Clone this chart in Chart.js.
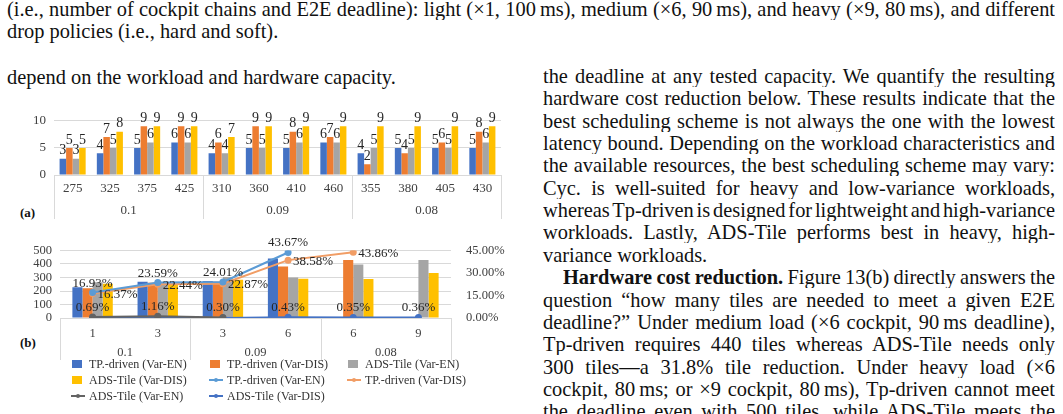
<!DOCTYPE html>
<html>
<head>
<meta charset="utf-8">
<script src="https://cdn.jsdelivr.net/npm/chart.js@4.4.1/dist/chart.umd.min.js"></script>
<style>
  html, body { margin: 0; padding: 0; background: #fff; }
  body {
    width: 1063px; height: 414px; overflow: hidden; position: relative;
    font-family: 'Liberation Serif', 'DejaVu Serif', serif;
    font-size: 20.4px; color: #111;
  }
  .ln { position: absolute; height: 22px; line-height: 22px; white-space: nowrap; }
  .j { text-align: justify; text-align-last: justify; white-space: normal; word-spacing: -3px; overflow: hidden; }
  .tag { position: absolute; font-weight: bold; font-size: 13px; }
  canvas { position: absolute; left: 0; }
  #legendB { position: absolute; left: 71px; top: 357px; display: grid;
    grid-template-columns: 138px 138px 138px; row-gap: 2px;
    font-size: 12px; color: #333; line-height: 14px; }
  #legendB .it { display: flex; align-items: center; white-space: nowrap; }
  #legendB .sw { width: 14px; height: 10px; margin-right: 4px; position: relative; }
</style>
</head>
<body>

<div class="ln j" style="left:7px; top:-2px; width:1048px;">(i.e., number of cockpit chains and E2E deadline): light (×1, 100&#8201;ms), medium (×6, 90&#8201;ms), and heavy (×9, 80&#8201;ms), and different</div>
<div class="ln" style="left:7px; top:20px;">drop policies (i.e., hard and soft).</div>

<div class="ln" style="left:7px; top:66px;">depend on the workload and hardware capacity.</div>

<div id="rightCol"></div>

<span class="tag" style="left:20px; top:205px;">(a)</span>
<span class="tag" style="left:20px; top:335px;">(b)</span>

<canvas id="chartA" width="505" height="116" style="top:105px;"></canvas>
<canvas id="chartB" width="505" height="125" style="top:235px;"></canvas>
<div id="legendB"></div>

<script>
// right column text, one entry per printed line
const rightLines = [
    'the deadline at any tested capacity. We quantify the resulting',
    'hardware cost reduction below. These results indicate that the',
    'best scheduling scheme is not always the one with the lowest',
    'latency bound. Depending on the workload characteristics and',
    'the available resources, the best scheduling scheme may vary:',
    'Cyc. is well-suited for heavy and low-variance workloads,',
    'whereas Tp-driven is designed for lightweight and high-variance',
    'workloads. Lastly, ADS-Tile performs best in heavy, high-',
    'variance workloads.',
    '<b>Hardware cost reduction.</b> Figure 13(b) directly answers the',
    'question “how many tiles are needed to meet a given E2E',
    'deadline?” Under medium load (×6 cockpit, 90&#8201;ms deadline),',
    'Tp-driven requires 440 tiles whereas ADS-Tile needs only',
    '300 tiles—a 31.8% tile reduction. Under heavy load (×6',
    'cockpit, 80&#8201;ms; or ×9 cockpit, 80&#8201;ms), Tp-driven cannot meet',
    'the deadline even with 500 tiles, while ADS-Tile meets the'
];

// (a) capacity vs number of chains meeting the deadline
const capacityA = ['275', '325', '375', '425', '310', '360', '410', '460', '355', '380', '405', '430'];
const deadlinesA = ['0.1', '0.09', '0.08'];
const tpEnA  = [3, 4, 5, 6, 4, 5, 5, 6, 4, 5, 5, 5];
const tpDisA = [5, 7, 9, 9, 6, 9, 8, 7, 2, 4, 6, 8];
const adsEnA = [3, 5, 6, 6, 4, 5, 6, 6, 5, 5, 5, 6];
const adsDisA = [5, 8, 9, 9, 7, 9, 9, 9, 9, 9, 9, 9];

// (b) tiles needed (bars) and reduction % (lines)
const chainsB = ['1', '3', '3', '6', '6', '9'];
const deadlinesB = ['0.1', '0.09', '0.08'];
const tpEnTiles  = [228, 268, 275, 440, null, null];
const tpDisTiles = [220, 262, 268, 381, 430, null];
const adsEnTiles = [265, 258, 303, 300, 397, 430];
const adsDisTiles = [254, 250, 284, 291, 289, 333];
const tpEnCut  = [16.93, 23.59, 24.01, 43.67, null, null];
const tpDisCut = [16.37, 22.44, 22.87, 38.58, 43.86, null];
const adsEnCut = [0.69, 1.16, 0.30, null, null, null];
const adsDisCut = [0, 0, 0, 0.43, 0.35, 0.36];

const serif = "'Liberation Serif', 'DejaVu Serif', serif";
const gridColor = '#d9d9d9';

let rc = '';
rightLines.forEach((t, i) => {
    const last = (i === 8);
    const indent = (i === 9) ? 20 : 0;
    rc += '<div class="ln' + (last ? '' : ' j') + '" style="left:' + (543 + indent) + 'px; top:' + (65 + i * 22.35) +
        'px; width:' + (512 - indent) + 'px;">' + t + '</div>';
});
document.getElementById('rightCol').innerHTML = rc;

// value labels drawn from element positions
const valueLabels = {
    id: 'valueLabels',
    afterDatasetsDraw(chart) {
        const ctx = chart.ctx;
        ctx.save();
        chart.data.datasets.forEach((ds, i) => {
            if (!ds.labelPos) return;
            const meta = chart.getDatasetMeta(i);
            ctx.font = ds.labelFont;
            ctx.fillStyle = '#262626';
            meta.data.forEach((el, j) => {
                const v = ds.data[j];
                if (v === null || (ds.skipZero && v === 0)) return;
                const txt = ds.fmt ? ds.fmt(v) : String(v);
                if (ds.labelPos === 'right') {
                    ctx.textAlign = 'left';
                    ctx.textBaseline = 'middle';
                    ctx.fillText(txt, el.x + 5, el.y + 1);
                } else if (ds.labelPos === 'above') {
                    ctx.textAlign = 'center';
                    ctx.textBaseline = 'bottom';
                    ctx.fillText(txt, el.x, el.y - 3);
                } else {
                    ctx.textAlign = 'center';
                    ctx.textBaseline = 'bottom';
                    ctx.fillText(txt, el.x, el.y - (ds.labelGap || 1));
                }
            });
        });
        ctx.restore();
    }
};

// group separators of the two-level category axis
const groupLines = {
    id: 'groupLines',
    afterDraw(chart, args, opts) {
        const x = chart.scales.x;
        const g = chart.scales.group;
        const n = x.getLabels().length;
        const per = n / 3;
        const ctx = chart.ctx;
        ctx.save();
        ctx.strokeStyle = gridColor;
        ctx.lineWidth = 1;
        for (let k = 0; k <= 3; k++) {
            const px = Math.round(x.getPixelForValue(k * per - 0.5)) + 0.5;
            ctx.beginPath();
            ctx.moveTo(px, chart.chartArea.bottom);
            ctx.lineTo(px, g.bottom + opts.extra);
            ctx.stroke();
        }
        ctx.restore();
    }
};

function barSet(label, data, color, extra) {
    return Object.assign({
        type: 'bar', label: label, data: data, backgroundColor: color,
        yAxisID: 'y', order: 2, barPercentage: 1.0
    }, extra || {});
}

function drawCharts() {
    // ---------- chart (a) ----------
    const fontA = { family: serif, size: 13 };
    const labA = { labelPos: 'bar', labelFont: '14px ' + serif, labelGap: 1 };
    new Chart(document.getElementById('chartA'), {
        type: 'bar',
        data: {
            labels: capacityA,
            datasets: [
                barSet('TP.-driven (Var-EN)', tpEnA, '#4472C4', labA),
                barSet('TP.-driven (Var-DIS)', tpDisA, '#ED7D31', labA),
                barSet('ADS-Tile (Var-EN)', adsEnA, '#A5A5A5', labA),
                barSet('ADS-Tile (Var-DIS)', adsDisA, '#FFC000', labA)
            ]
        },
        options: {
            responsive: false,
            animation: false,
            layout: { padding: { top: 12, right: 4, left: 0, bottom: 0 } },
            datasets: { bar: { categoryPercentage: 0.7 } },
            plugins: { legend: { display: false }, tooltip: { enabled: false }, groupLines: { extra: -2 } },
            scales: {
                x: {
                    offset: true,
                    grid: { display: false, drawTicks: false },
                    border: { display: true, color: gridColor },
                    ticks: { font: fontA, color: '#404040', padding: 6, maxRotation: 0, autoSkip: false },
                    afterFit: s => { s.height = 26; }
                },
                group: {
                    axis: 'x', type: 'category', position: 'bottom', labels: deadlinesA, offset: true, weight: 1,
                    grid: { display: false, drawTicks: false }, border: { display: false },
                    ticks: { font: fontA, color: '#404040', padding: 2, autoSkip: false },
                    afterFit: s => { s.height = 20; }
                },
                y: {
                    min: 0, max: 10,
                    ticks: { stepSize: 5, font: fontA, color: '#404040', padding: 8, autoSkip: false },
                    grid: { color: gridColor, drawTicks: false },
                    border: { display: false },
                    afterFit: s => { s.width = 54; }
                }
            }
        },
        plugins: [valueLabels, groupLines]
    });

    // ---------- chart (b) ----------
    const fontB = { family: serif, size: 12.5 };
    const pct = v => v.toFixed(2) + '%';
    function lineSet(label, data, color, extra) {
        return Object.assign({
            type: 'line', label: label, data: data, borderColor: color, backgroundColor: color,
            pointBackgroundColor: color, pointBorderColor: color, pointRadius: 2.5, borderWidth: 2,
            yAxisID: 'y1', order: 1, spanGaps: false, fmt: pct, labelFont: '13px ' + serif
        }, extra || {});
    }
    const chartB = new Chart(document.getElementById('chartB'), {
        type: 'bar',
        data: {
            labels: chainsB,
            datasets: [
                barSet('TP.-driven (Var-EN)', tpEnTiles, '#4472C4'),
                barSet('TP.-driven (Var-DIS)', tpDisTiles, '#ED7D31'),
                barSet('ADS-Tile (Var-EN)', adsEnTiles, '#A5A5A5'),
                barSet('ADS-Tile (Var-DIS)', adsDisTiles, '#FFC000'),
                lineSet('TP.-driven (Var-EN)', tpEnCut, '#5B9BD5', { labelPos: 'above' }),
                lineSet('TP.-driven (Var-DIS)', tpDisCut, '#F19D65', { labelPos: 'right' }),
                lineSet('ADS-Tile (Var-EN)', adsEnCut, '#636363', { labelPos: 'bar', labelGap: 3 }),
                lineSet('ADS-Tile (Var-DIS)', adsDisCut, '#4472C4', { labelPos: 'bar', labelGap: 3, skipZero: true })
            ]
        },
        options: {
            responsive: false,
            animation: false,
            layout: { padding: { top: 12, right: 0, left: 0, bottom: 0 } },
            datasets: { bar: { categoryPercentage: 0.62 } },
            plugins: { legend: { display: false }, tooltip: { enabled: false }, groupLines: { extra: 2 } },
            scales: {
                x: {
                    offset: true,
                    grid: { display: false, drawTicks: false },
                    border: { display: true, color: gridColor },
                    ticks: { font: fontB, color: '#404040', padding: 8, maxRotation: 0, autoSkip: false },
                    afterFit: s => { s.height = 24; }
                },
                group: {
                    axis: 'x', type: 'category', position: 'bottom', labels: deadlinesB, offset: true, weight: 1,
                    grid: { display: false, drawTicks: false }, border: { display: false },
                    ticks: { font: fontB, color: '#404040', padding: 3, autoSkip: false },
                    afterFit: s => { s.height = 18; }
                },
                y: {
                    min: 0, max: 500,
                    ticks: { stepSize: 100, font: fontB, color: '#404040', padding: 8, autoSkip: false },
                    grid: { color: gridColor, drawTicks: false },
                    border: { display: false },
                    afterFit: s => { s.width = 60; }
                },
                y1: {
                    position: 'right', min: 0, max: 45,
                    ticks: { stepSize: 15, font: fontB, color: '#404040', padding: 7, autoSkip: false, callback: v => pct(v) },
                    grid: { display: false },
                    border: { display: false },
                    afterFit: s => { s.width = 54; }
                }
            }
        },
        plugins: [valueLabels, groupLines]
    });

    // html legend in three columns, built from the datasets
    let lg = '';
    chartB.data.datasets.forEach(ds => {
        let sw;
        if (ds.type === 'line') {
            sw = '<span class="sw"><span style="position:absolute;left:0;top:4px;width:14px;height:2px;background:' + ds.borderColor +
                '"></span><span style="position:absolute;left:5px;top:3px;width:4px;height:4px;border-radius:2px;background:' + ds.borderColor + '"></span></span>';
        } else {
            sw = '<span class="sw"><span style="position:absolute;left:1px;top:1px;width:10px;height:8px;background:' + ds.backgroundColor + '"></span></span>';
        }
        lg += '<div class="it">' + sw + '<span>' + ds.label + '</span></div>';
    });
    document.getElementById('legendB').innerHTML = lg;
}

document.fonts.load('13px "Liberation Serif"').then(drawCharts, drawCharts);
</script>
</body>
</html>
